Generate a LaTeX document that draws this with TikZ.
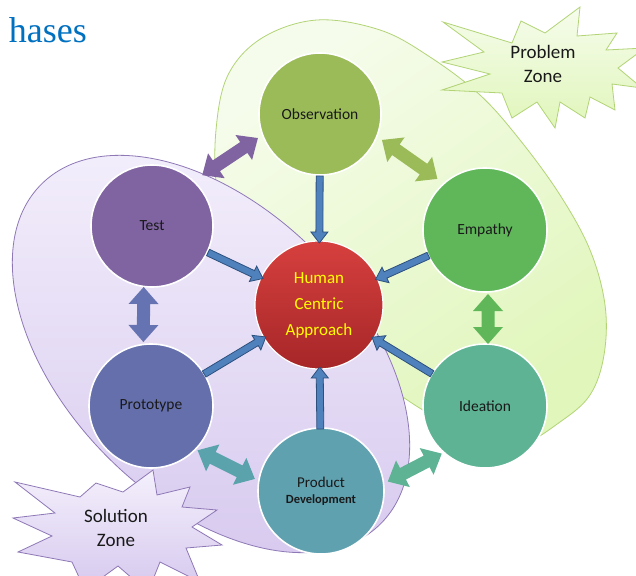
\documentclass[tikz,border=0pt]{standalone}
\usepackage{fontspec}
\setmainfont{Carlito}
\newfontfamily\titlefont{Liberation Serif}
\usetikzlibrary{calc}

\definecolor{titleblue}{RGB}{0,112,192}
\definecolor{obsgreen}{RGB}{155,187,89}
\definecolor{empgreen}{RGB}{95,183,90}
\definecolor{ideagreen}{RGB}{93,179,148}
\definecolor{prodteal}{RGB}{96,161,176}
\definecolor{protoblue}{RGB}{100,111,172}
\definecolor{testpurple}{RGB}{128,100,162}
\definecolor{hubtop}{RGB}{214,64,62}
\definecolor{hubbot}{RGB}{166,38,40}
\definecolor{hubtext}{RGB}{255,255,0}
\definecolor{connfill}{RGB}{79,129,189}
\definecolor{connedge}{RGB}{45,80,125}
\definecolor{gzonelight}{RGB}{246,252,236}
\definecolor{gzonedark}{RGB}{224,246,186}
\definecolor{gzoneedge}{RGB}{178,212,118}
\definecolor{pzonelight}{RGB}{244,240,252}
\definecolor{pzonedark}{RGB}{214,200,238}
\definecolor{pzoneedge}{RGB}{142,120,182}
\definecolor{textdark}{RGB}{25,25,25}
\definecolor{arrteal}{RGB}{90,163,172}
\definecolor{arrprot}{RGB}{101,115,178}

\tikzset{
  arrA/.store in=\blkA, arrB/.store in=\blkB,
  arrS/.store in=\blkS, arrW/.store in=\blkW, arrL/.store in=\blkL,
  blk/.style={to path={
    ($(\tikztostart)!\blkA!(\tikztotarget)$) coordinate (bS)
    ($(\tikztotarget)!\blkB!(\tikztostart)$) coordinate (bE)
    ($(bE)!\blkL!(bS)$) coordinate (bH)
    ($(bS)!\blkS!90:(bE)$) -- ($(bH)!\blkS!-90:(bS)$) -- ($(bH)!\blkW!-90:(bS)$)
    -- (bE) -- ($(bH)!\blkW!90:(bS)$) -- ($(bH)!\blkS!90:(bS)$)
    -- ($(bS)!\blkS!-90:(bE)$) -- cycle}},
  dblk/.style={to path={
    ($(\tikztostart)!\blkA!(\tikztotarget)$) coordinate (dS)
    ($(\tikztotarget)!\blkB!(\tikztostart)$) coordinate (dE)
    ($(dS)!\blkL!(dE)$) coordinate (dHa)
    ($(dE)!\blkL!(dS)$) coordinate (dHb)
    (dS) -- ($(dHa)!\blkW!90:(dE)$) -- ($(dHa)!\blkS!90:(dE)$)
    -- ($(dHb)!\blkS!-90:(dS)$) -- ($(dHb)!\blkW!-90:(dS)$) -- (dE)
    -- ($(dHb)!\blkW!90:(dS)$) -- ($(dHb)!\blkS!90:(dS)$)
    -- ($(dHa)!\blkS!-90:(dE)$) -- ($(dHa)!\blkW!-90:(dE)$) -- cycle}},
  conn/.style={draw=connedge, fill=connfill, line width=0.8pt, line join=miter,
    arrA=62pt, arrB=62pt, arrS=3.5pt, arrW=8.5pt, arrL=11pt},
  link/.style={fill=#1, draw=none, arrS=6.5pt, arrW=15pt, arrL=17pt},
  phase/.style={circle, draw=white, line width=1.6pt, minimum size=122pt, inner sep=0pt,
    text=textdark, font=\fontsize{15.5}{18}\selectfont},
  hub/.style={circle, draw=white, line width=1.2pt, minimum size=128pt, inner sep=0pt,
    top color=hubtop, bottom color=hubbot, text=hubtext, align=center,
    font=\fontsize{17}{26}\selectfont},
  greenzone/.style={draw=gzoneedge, line width=0.8pt, top color=gzonelight,
    bottom color=gzonedark, shading angle=35},
  purplezone/.style={draw=pzoneedge, line width=0.8pt, top color=pzonelight,
    bottom color=pzonedark},
  zonetext/.style={align=center, text=textdark, font=\fontsize{19}{24}\selectfont}
}

\begin{document}
\begin{tikzpicture}[x=1pt,y=-1pt]
\fill[white] (0,0) rectangle (636,575);
\useasboundingbox (0,0) rectangle (636,575);

% title fragment
\node[font=\titlefont\fontsize{36}{40}\selectfont, text=titleblue, anchor=base east,
  inner sep=0pt] (title) at (87,43) {hases};

% problem zone (green area)
\draw[greenzone] plot[smooth cycle, tension=0.6] coordinates {
  (317,20) (380,30) (430,57) (480,95) (520,140) (560,195) (590,250) (605,305)
  (604,355) (590,395) (560,422) (520,445) (480,440) (440,420) (400,395)
  (340,350) (275,295) (232,238) (217,190) (216,130) (228,75) (262,38)};

% solution zone (purple area)
\draw[purplezone, rotate around={-45:(211,354)}] (211,354) ellipse [x radius=240pt, y radius=146pt];

% starbursts
\draw[draw=gzoneedge, line width=0.8pt, top color=gzonelight, bottom color=gzonedark]
  (443,22) -- (512,43) -- (521,21) -- (545,33) -- (580,7) -- (577,36) -- (617,33)
  -- (606,50) -- (645,48) -- (618,68) -- (642,88) -- (612,84) -- (615,110)
  -- (590,97) -- (585,118) -- (560,102) -- (555,128) -- (537,102) -- (512,118)
  -- (502,93) -- (442,90) -- (490,74) -- (442,62) -- (484,52) -- cycle;
\node[zonetext] (pz) at (543,64) {Problem\\Zone};

\draw[draw=pzoneedge, line width=0.8pt, top color=pzonelight, bottom color=pzonedark]
  (15,482) -- (80,497) -- (96,483) -- (123,492) -- (153,470) -- (157,495)
  -- (190,487) -- (182,507) -- (217,510) -- (192,527) -- (222,545) -- (186,548)
  -- (200,582) -- (160,562) -- (148,592) -- (118,566) -- (85,590) -- (72,562)
  -- (18,552) -- (52,536) -- (13,518) -- (55,513) -- cycle;
\node[zonetext] (sz) at (116,528) {Solution\\Zone};

% phase circles
\node[phase, fill=obsgreen] (obs) at (320,114) {Observation};
\node[phase, fill=testpurple] (test) at (152,226) {Test};
\node[phase, fill=empgreen, minimum size=124pt] (emp) at (485,230) {Empathy};
\node[phase, fill=protoblue, minimum size=124pt] (proto) at (151,406) {Prototype};
\node[phase, fill=ideagreen, minimum size=124pt] (idea) at (485,406) {Ideation};
\node[phase, fill=prodteal, minimum size=126pt, align=center,
  font=\fontsize{15}{16}\selectfont] (prod) at (321,491)
  {Product\\{\bfseries\fontsize{12.5}{16}\selectfont Development}};
\node[hub] (hc) at (319,305) {Human\\Centric\\Approach};

% links between phases
\draw[link=testpurple, arrA=70pt, arrB=65pt, transform canvas={xshift=-8pt, yshift=12pt}]
  (test) to[dblk] (obs);
\draw[link=obsgreen, arrA=66pt, arrB=68pt, transform canvas={xshift=8pt, yshift=12pt}]
  (obs) to[dblk] (emp);
\draw[link=empgreen, arrA=64pt, arrB=62pt, transform canvas={xshift=3pt}]
  (emp) to[dblk] (idea);
\draw[link=arrprot, arrA=61pt, arrB=64pt, transform canvas={xshift=-8pt}]
  (test) to[dblk] (proto);
\draw[link=arrteal, arrA=61pt, arrB=65pt, transform canvas={xshift=-8pt, yshift=-17pt}]
  (proto) to[dblk] (prod);
\draw[link=ideagreen, arrA=64pt, arrB=60pt, transform canvas={xshift=10pt, yshift=-20pt}]
  (prod) to[dblk] (idea);

% connectors into the hub
\draw[conn] (obs) to[blk] (hc);
\draw[conn] (test) to[blk] (hc);
\draw[conn] (emp) to[blk] (hc);
\draw[conn] (proto) to[blk] (hc);
\draw[conn] (idea) to[blk] (hc);
\draw[conn] (prod) to[blk] (hc);
\end{tikzpicture}
\end{document}
